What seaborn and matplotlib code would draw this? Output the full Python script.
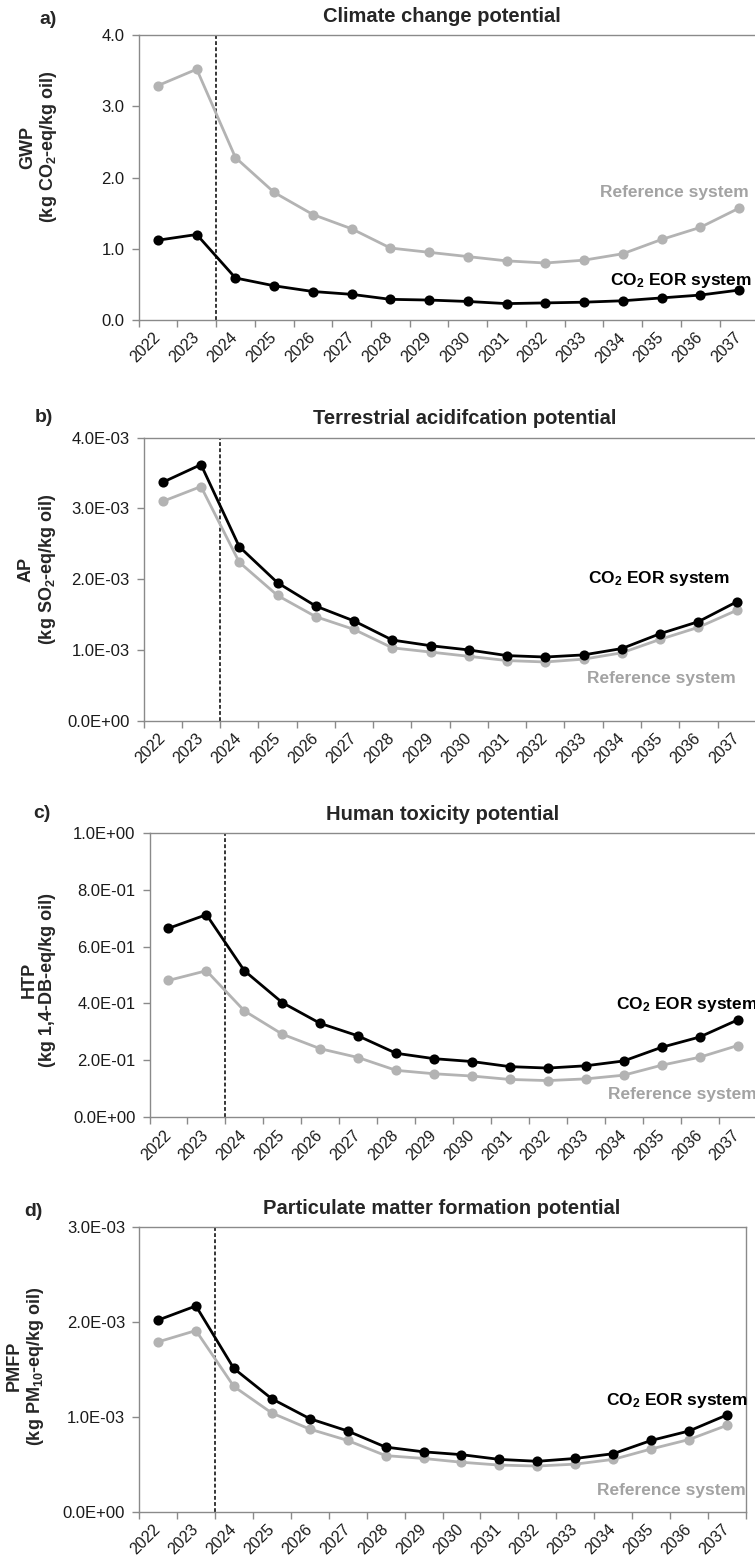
import numpy as np
import pandas as pd
import matplotlib
matplotlib.use("Agg")
import matplotlib.pyplot as plt
import seaborn as sns

# ---- data -------------------------------------------------------------
years = [str(y) for y in range(2022, 2038)]

gwp_ref = [3.29, 3.52, 2.28, 1.79, 1.48, 1.28, 1.01, 0.95, 0.89, 0.83, 0.80, 0.84, 0.93, 1.13, 1.30, 1.57]
gwp_eor = [1.12, 1.20, 0.59, 0.48, 0.40, 0.36, 0.29, 0.28, 0.26, 0.23, 0.24, 0.25, 0.27, 0.31, 0.35, 0.42]

ap_ref = [3.10e-3, 3.31e-3, 2.24e-3, 1.77e-3, 1.47e-3, 1.29e-3, 1.03e-3, 0.97e-3,
          0.91e-3, 0.85e-3, 0.83e-3, 0.87e-3, 0.96e-3, 1.15e-3, 1.32e-3, 1.56e-3]
ap_eor = [3.37e-3, 3.62e-3, 2.46e-3, 1.95e-3, 1.62e-3, 1.41e-3, 1.14e-3, 1.06e-3,
          1.00e-3, 0.92e-3, 0.90e-3, 0.93e-3, 1.02e-3, 1.23e-3, 1.40e-3, 1.68e-3]

htp_ref = [0.481, 0.515, 0.374, 0.292, 0.241, 0.210, 0.165, 0.153,
           0.145, 0.133, 0.129, 0.135, 0.148, 0.183, 0.211, 0.252]
htp_eor = [0.664, 0.712, 0.515, 0.403, 0.330, 0.286, 0.225, 0.206,
           0.196, 0.178, 0.173, 0.181, 0.198, 0.246, 0.282, 0.342]

pmfp_ref = [1.79e-3, 1.91e-3, 1.32e-3, 1.04e-3, 0.87e-3, 0.75e-3, 0.59e-3, 0.56e-3,
            0.52e-3, 0.49e-3, 0.48e-3, 0.50e-3, 0.55e-3, 0.66e-3, 0.76e-3, 0.91e-3]
pmfp_eor = [2.02e-3, 2.17e-3, 1.51e-3, 1.19e-3, 0.98e-3, 0.85e-3, 0.68e-3, 0.63e-3,
            0.60e-3, 0.55e-3, 0.53e-3, 0.56e-3, 0.61e-3, 0.75e-3, 0.85e-3, 1.02e-3]

systems = ["Reference system", "CO$_2$ EOR system"]

titles = ["Climate change potential", "Terrestrial acidifcation potential",
          "Human toxicity potential", "Particulate matter formation potential"]
letters = ["a)", "b)", "c)", "d)"]
ylabels = ["GWP\n(kg CO$_2$-eq/kg oil)", "AP\n(kg SO$_2$-eq/kg oil)",
           "HTP\n(kg 1,4-DB-eq/kg oil)", "PMFP\n(kg PM$_{10}$-eq/kg oil)"]

gwp_ticks = [0.0, 1.0, 2.0, 3.0, 4.0]
ap_ticks = [0.0, 1e-3, 2e-3, 3e-3, 4e-3]
htp_ticks = [0.0, 0.2, 0.4, 0.6, 0.8, 1.0]
pmfp_ticks = [0.0, 1e-3, 2e-3, 3e-3]

# ---- style ------------------------------------------------------------
sns.set_theme(style="white")
plt.rcParams["font.family"] = ["Liberation Sans", "DejaVu Sans"]
plt.rcParams["mathtext.fontset"] = "custom"
plt.rcParams["mathtext.rm"] = "Liberation Sans:bold"
plt.rcParams["mathtext.bf"] = "Liberation Sans:bold"
plt.rcParams["mathtext.default"] = "rm"

GREY = "#b3b3b3"
GREY_TXT = "#a3a3a3"
SPINE = "#8a8a8a"

W, H = 755, 1557
fig = plt.figure(figsize=(W / 100, H / 100), dpi=100)
fig.patch.set_facecolor("white")


def px(x, y):
    return x / W, 1 - y / H


def rect(left, right, top, bottom):
    return [left / W, 1 - bottom / H, (right - left) / W, (bottom - top) / H]


def draw_panel(box, ref, eor, yticks, fmt, right_spine):
    ax = fig.add_axes(box)
    df = pd.DataFrame({
        "year": years * 2,
        "value": list(ref) + list(eor),
        "system": [systems[0]] * len(years) + [systems[1]] * len(years),
    })
    sns.pointplot(data=df, x="year", y="value", hue="system", order=years,
                  hue_order=systems, palette={systems[0]: GREY, systems[1]: "black"},
                  markers="o", linestyles="-", errorbar=None, legend=False,
                  markersize=5.8, linewidth=2.0, ax=ax)
    ax.set_xlim(-0.5, len(years) - 0.5)
    ax.set_ylim(yticks[0], yticks[-1])
    ax.set_yticks(yticks)
    ax.set_yticklabels([fmt(v) for v in yticks])
    ax.set_xticks(range(len(years)))
    ax.set_xticklabels(years, rotation=45, ha="right", va="center",
                       rotation_mode="anchor")
    ax.set_xticks(np.arange(-0.5, len(years), 1.0), minor=True)
    ax.tick_params(axis="x", which="major", length=0, pad=11, labelsize=11.5,
                   labelcolor="#1a1a1a", bottom=True)
    ax.tick_params(axis="x", which="minor", length=5, width=1, color=SPINE,
                   direction="out", bottom=True)
    ax.tick_params(axis="y", which="major", length=5, width=1, color=SPINE,
                   direction="out", left=True, pad=5, labelsize=12,
                   labelcolor="#1a1a1a")
    ax.set_xlabel("")
    ax.set_ylabel("")
    for name, sp in ax.spines.items():
        sp.set_color(SPINE)
        sp.set_linewidth(1.0)
    ax.spines["right"].set_visible(right_spine)
    ax.grid(False)
    ax.axvline(1.5, color="black", lw=1.1, ls=(0, (2.5, 1.5)), zorder=1)
    return ax


fmt_f = lambda v: f"{v:.1f}"
fmt_e = lambda v: f"{v:.1E}"

panels = [
    dict(box=rect(138.6, 758.4, 35, 320), ref=gwp_ref, eor=gwp_eor, ticks=gwp_ticks,
         fmt=fmt_f, rs=False, letter=(48, 20), title=(442, 17), ylab=(39, 147),
         lab_ref=(600, 193), lab_eor=(610, 280)),
    dict(box=rect(143.6, 755.8, 437.7, 720.7), ref=ap_ref, eor=ap_eor, ticks=ap_ticks,
         fmt=fmt_e, rs=False, letter=(44, 417), title=(465, 418), ylab=(38, 569),
         lab_ref=(587, 678), lab_eor=(588, 578)),
    dict(box=rect(149.5, 756.5, 832.7, 1117.3), ref=htp_ref, eor=htp_eor, ticks=htp_ticks,
         fmt=fmt_e, rs=False, letter=(42, 813), title=(443, 815), ylab=(38.5, 980),
         lab_ref=(608, 1095), lab_eor=(616, 1005)),
    dict(box=rect(139, 746, 1227.3, 1511.5), ref=pmfp_ref, eor=pmfp_eor, ticks=pmfp_ticks,
         fmt=fmt_e, rs=True, letter=(33, 1212), title=(442, 1208), ylab=(26, 1366),
         lab_ref=(597, 1490), lab_eor=(606, 1400)),
]

for i, p in enumerate(panels):
    draw_panel(p["box"], p["ref"], p["eor"], p["ticks"], p["fmt"], p["rs"])
    fig.text(*px(*p["letter"]), letters[i], fontsize=14, fontweight="bold",
             ha="center", va="center")
    fig.text(*px(*p["title"]), titles[i], fontsize=14.5, fontweight="bold",
             ha="center", va="center")
    fig.text(*px(*p["ylab"]), ylabels[i], fontsize=13, fontweight="bold",
             rotation=90, ha="center", va="center", multialignment="center",
             linespacing=1.15)
    fig.text(*px(*p["lab_ref"]), systems[0], fontsize=12.5, fontweight="bold",
             color=GREY_TXT, ha="left", va="center")
    fig.text(*px(*p["lab_eor"]), systems[1], fontsize=12.5, fontweight="bold",
             color="black", ha="left", va="center")

fig.savefig("out.png", dpi=100, facecolor="white")
